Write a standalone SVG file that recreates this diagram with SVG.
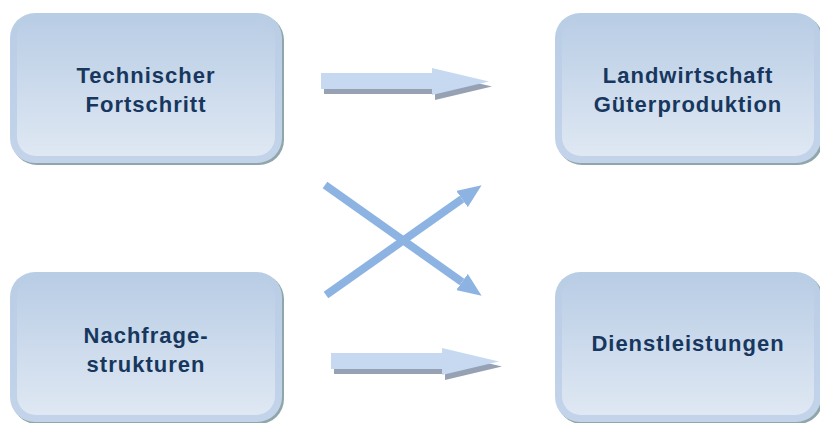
<svg xmlns="http://www.w3.org/2000/svg" width="820" height="423" viewBox="0 0 820 423">
<defs>
<linearGradient id="inner" x1="0" y1="0" x2="0" y2="1">
<stop offset="0" stop-color="#b9cde5"/>
<stop offset="1" stop-color="#dfe8f3"/>
</linearGradient>
<linearGradient id="outer" x1="0" y1="0" x2="0" y2="1">
<stop offset="0" stop-color="#b9cde5"/>
<stop offset="1" stop-color="#c3d4ea"/>
</linearGradient>
<marker id="head" viewBox="0 0 24 20" refX="0" refY="10" markerWidth="24" markerHeight="20" markerUnits="userSpaceOnUse" orient="auto">
<path d="M0,0 L24,10 L0,20 Z" fill="#8db3e2"/>
</marker>
<path id="flat" d="M0,5 L111,5 L111,0 L168,13.5 L111,27 L111,21 L0,21 Z"/>
</defs>
<style>
.shadow{fill:#8fa7aa}
.out{fill:url(#outer)}
.in{fill:url(#inner)}
.lbl{font-family:"Liberation Sans",Arial,sans-serif;font-weight:bold;font-size:22px;letter-spacing:1px;fill:#17375e;text-anchor:middle}
.ash{fill:#96a2b4}
.afl{fill:#c6d9f1}
.x{stroke:#8db3e2;stroke-width:8;fill:none;marker-end:url(#head)}
</style>
<g id="n1">
<rect class="shadow" x="12" y="15" width="272" height="150" rx="25"/>
<rect class="out" x="10" y="13" width="272" height="150" rx="25"/>
<rect class="in" x="17" y="18" width="258" height="138" rx="19"/>
<text class="lbl" x="146" y="83">Technischer</text>
<text class="lbl" x="146" y="112">Fortschritt</text>
</g>
<g id="n2">
<rect class="shadow" x="557" y="15" width="266" height="150" rx="25"/>
<rect class="out" x="555" y="13" width="266" height="150" rx="25"/>
<rect class="in" x="562" y="18" width="252" height="138" rx="19"/>
<text class="lbl" x="688" y="83">Landwirtschaft</text>
<text class="lbl" x="688" y="112">Güterproduktion</text>
</g>
<g id="n3">
<rect class="shadow" x="12" y="274" width="272" height="150" rx="25"/>
<rect class="out" x="10" y="272" width="272" height="150" rx="25"/>
<rect class="in" x="17" y="277" width="258" height="138" rx="19"/>
<text class="lbl" x="146" y="343">Nachfrage-</text>
<text class="lbl" x="146" y="372">strukturen</text>
</g>
<g id="n4">
<rect class="shadow" x="557" y="274" width="266" height="150" rx="25"/>
<rect class="out" x="555" y="272" width="266" height="150" rx="25"/>
<rect class="in" x="562" y="277" width="252" height="138" rx="19"/>
<text class="lbl" x="688" y="351">Dienstleistungen</text>
</g>
<g id="connectors">
<use href="#flat" class="ash" transform="translate(324,73)"/>
<use href="#flat" class="afl" transform="translate(321,68)"/>
<use href="#flat" class="ash" transform="translate(334,353)"/>
<use href="#flat" class="afl" transform="translate(331,348)"/>
<line class="x" x1="325" y1="185" x2="462" y2="282"/>
<line class="x" x1="326" y1="295" x2="462" y2="199"/>
</g>
</svg>
